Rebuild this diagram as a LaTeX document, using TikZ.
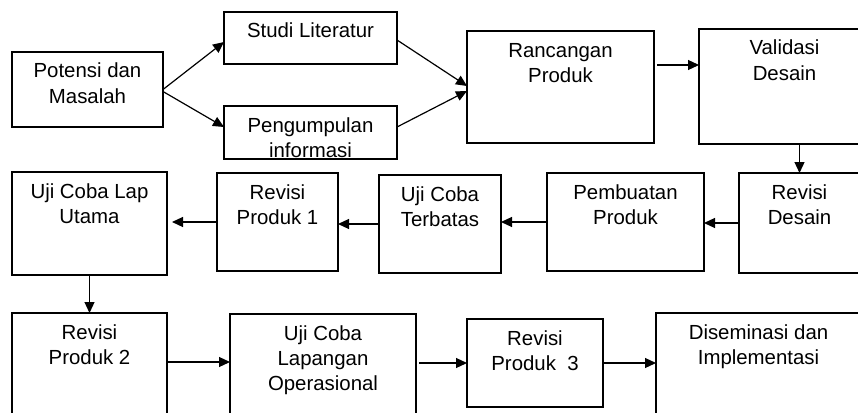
\documentclass[tikz,border=0pt]{standalone}
\usepackage{fontspec}
\setmainfont{Liberation Sans}
\usetikzlibrary{arrows.meta,calc}
\tikzset{
  box/.style={draw, line width=1.2pt, inner sep=0pt, outer sep=0pt, rectangle},
  txt/.style={align=center, inner sep=0pt, outer sep=0pt, font=\fontsize{20.4}{25}\selectfont, anchor=north},
  arr/.style={line width=1.2pt, -{Triangle[length=11pt,width=10pt]}},
}
\newcommand\mybox[6]{%
  \node[box, minimum width={(#4-#2)*1pt}, minimum height={(#5-#3)*1pt}] (#1) at ({(#2+#4)/2},{(#3+#5)/2}) {};
  \node[txt] (#1t) at ([yshift=-8.5pt]#1.north) {\strut #6};
}
\begin{document}
\begin{tikzpicture}[x=1pt,y=-1pt]
\useasboundingbox (0,0) rectangle (858,412);
\clip (0,0) rectangle (858,412);
\mybox{pot}{12}{52}{163}{127}{Potensi dan\\Masalah}
\mybox{studi}{224}{12}{397}{64}{Studi Literatur}
\mybox{peng}{224}{106}{397}{159}{Pengumpulan\\informasi}
\mybox{ranc}{467}{31}{654}{143}{Rancangan\\Produk}
\mybox{val}{699}{29}{870}{144}{Validasi\\Desain}
\draw[line width=2.6pt] (val.south west) -- (val.south east);
\mybox{uji}{12}{172}{167}{275}{Uji Coba Lap\\Utama}
\mybox{rev1}{217}{173}{338}{271}{Revisi\\Produk 1}
\mybox{ter}{379}{175}{501}{273}{Uji Coba\\Terbatas}
\mybox{pemb}{547}{173}{704}{271}{Pembuatan\\Produk}
\mybox{rd}{739}{173}{860}{273}{Revisi\\Desain}
\mybox{rev2}{12}{313}{167}{440}{Revisi\\Produk 2}
\mybox{ops}{230}{314}{416}{440}{Uji Coba\\Lapangan\\Operasional}
\mybox{rev3}{467}{319}{603}{407}{Revisi\\Produk~~3}
\mybox{dis}{656}{313}{861}{440}{Diseminasi dan\\Implementasi}
% connectors
\draw[arr] (pot.east) -- ([yshift=-4pt]studi.west);
\draw[arr] ([yshift=-2pt]pot.east) -- ([yshift=5.5pt]peng.west);
\draw[arr] ([yshift=-2pt]studi.east) -- ([yshift=1pt]ranc.west);
\draw[arr] ([yshift=5.5pt]peng.east) -- ([yshift=-4pt]ranc.west);
\draw[arr, shorten <=3pt] ([yshift=22pt]ranc.east) -- ([yshift=22pt]ranc.east -| val.west);
\draw[arr] (val.south -| rd.north) -- (rd.north);
\draw[arr] (rd.west) -- (rd.west -| pemb.east);
\draw[arr] (pemb.west) -- (pemb.west -| ter.east);
\draw[arr] (ter.west) -- (ter.west -| rev1.east);
\draw[arr, shorten >=5pt] (rev1.west) -- (rev1.west -| uji.east);
\draw[arr] (uji.south) -- (rev2.north);
\draw[arr] ([yshift=-49pt]rev2.north east) -- ([yshift=-49pt]rev2.north east -| ops.west);
\draw[arr, shorten <=3pt] (ops.east |- rev3.west) -- (rev3.west);
\draw[arr] (rev3.east) -- (rev3.east -| dis.west);
\end{tikzpicture}
\end{document}
